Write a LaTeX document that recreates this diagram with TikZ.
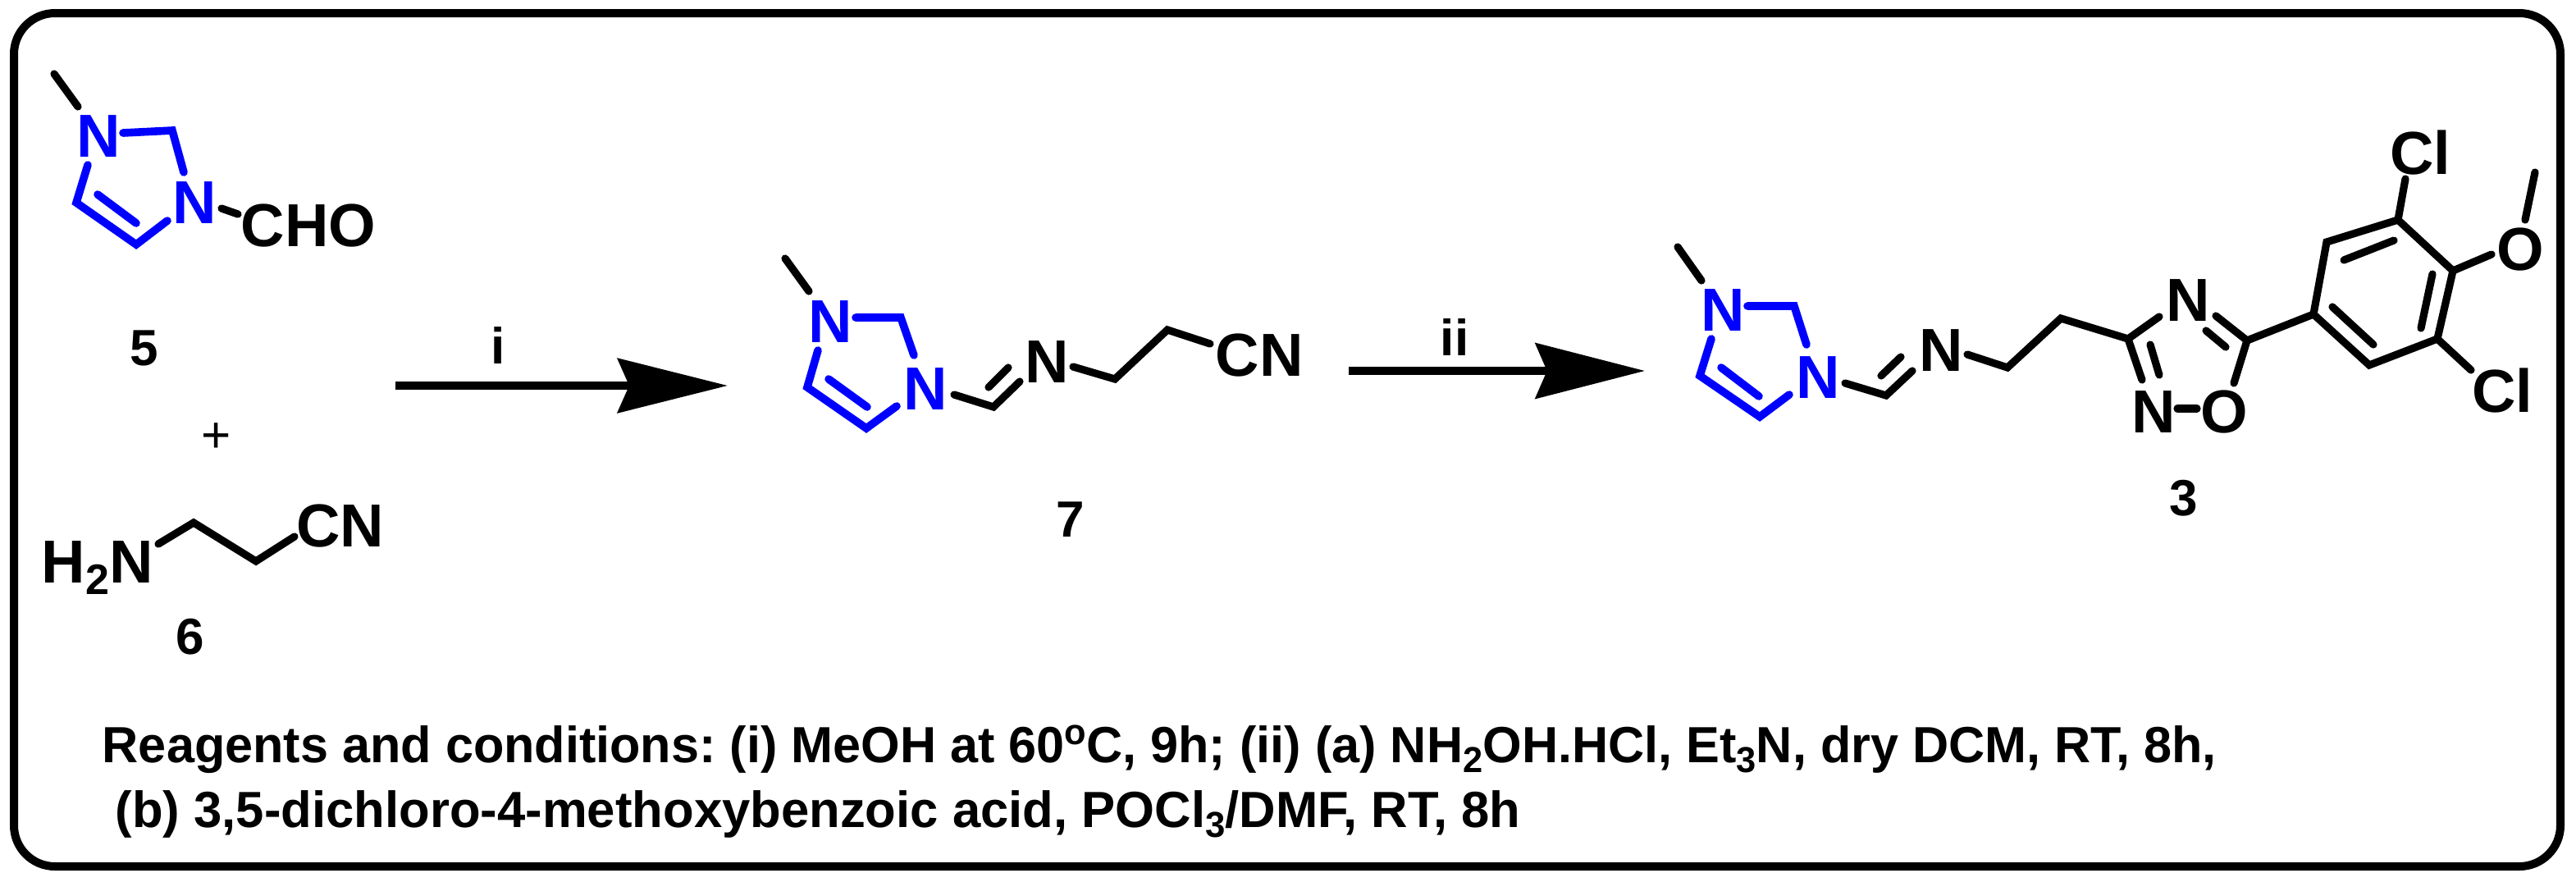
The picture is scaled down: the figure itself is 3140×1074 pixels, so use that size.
\documentclass[tikz,border=0pt]{standalone}
\usepackage{fontspec}
\usepackage{graphicx}
\setmainfont{Liberation Sans}
\usetikzlibrary{arrows.meta}
\newcommand{\chemlow}[1]{\raisebox{-3.7pt}{\fontsize{13}{13}\selectfont #1}}
\newcommand{\textlow}[1]{\raisebox{-3pt}{\fontsize{11}{11}\selectfont #1}}
\definecolor{ringblue}{RGB}{0,0,255}
\tikzset{
  atom/.style={anchor=base,inner sep=0pt,font=\fontsize{18.5}{18.5}\selectfont\bfseries},
  numlabel/.style={anchor=base,inner sep=0pt,font=\fontsize{15.5}{15.5}\selectfont\bfseries},
  atomblue/.style={atom,text=ringblue},
  bond/.style={line width=2.3pt,line cap=round,line join=miter,black},
  ringbond/.style={bond,draw=ringblue,line width=2.4pt},
  reactarrow/.style={line width=2.4pt,-{Stealth[length=33.5pt,width=16.5pt,inset=3.5pt]}},
  reactarrowb/.style={line width=2.5pt,-{Stealth[length=33.3pt,width=16.8pt,inset=3.5pt]}},
  conditions/.style={anchor=base west,inner sep=0pt,font=\fontsize{15.5}{15.5}\selectfont\bfseries\frenchspacing},
  frame/.style={line width=2.5pt,rounded corners=12.5pt}
}
\begin{document}
\begin{tikzpicture}[x=0.25pt,y=-0.25pt]
\useasboundingbox (0,0) rectangle (3140,1074);
\draw[frame] (17,16) rectangle (3121,1056);

% ---- compound 5
\node[atomblue] (aN1) at (120,191) {N};
\node[atomblue] (aN3) at (237,272) {N};
\node[atom] (aCHO) at (376,300) {CHO};
\node[numlabel] (n5) at (176,445) {5};
\coordinate (aMe) at (66,90); \coordinate (aMeN) at (95,130);
\coordinate (aB1) at (150,162); \coordinate (aC2) at (210,159); \coordinate (aB2) at (224,210);
\coordinate (aB3) at (204,269); \coordinate (aC4) at (166,298); \coordinate (aC5) at (93,247); \coordinate (aB4) at (107,201);
\coordinate (aI1) at (119,237); \coordinate (aI2) at (166,272);
\coordinate (aS1) at (270,254); \coordinate (aS2) at (290,261);
\draw[bond] (aMe) -- (aMeN);
\draw[ringbond] (aB1) -- (aC2) -- (aB2);
\draw[ringbond] (aB3) -- (aC4) -- (aC5) -- (aB4);
\draw[ringbond] (aI1) -- (aI2);
\draw[bond] (aS1) -- (aS2);
\node[numlabel] (plus) at (264,551) {\fontseries{m}\selectfont +};

% ---- compound 6
\node[atom,anchor=base west] (bH2N) at (50,710) {H\chemlow{2}N};
\node[atom] (bCN) at (415,666) {CN};
\node[numlabel] (n6) at (232,797) {6};
\coordinate (bA) at (193,663); \coordinate (bB) at (236,637); \coordinate (bC) at (312,684); \coordinate (bD) at (359,654);
\draw[bond] (bA) -- (bB) -- (bC) -- (bD);

% ---- arrow i
\coordinate (r1s) at (482,470); \coordinate (r1e) at (887,470);
\draw[reactarrow] (r1s) -- (r1e);
\node[numlabel] (ri) at (607,443) {i};

% ---- compound 7
\node[atomblue] (cN1) at (1012,417) {N};
\node[atomblue] (cN3) at (1128,499) {N};
\node[atom] (cN) at (1276,466) {N};
\node[atom] (cCN) at (1535,458) {CN};
\node[numlabel] (n7) at (1305,654) {7};
\coordinate (cMe) at (957,315); \coordinate (cMeN) at (986,355);
\coordinate (cB1) at (1043,387); \coordinate (cC2) at (1098,387); \coordinate (cB2) at (1114,433);
\coordinate (cB3) at (1093,495); \coordinate (cC4) at (1056,522); \coordinate (cC5) at (984,472); \coordinate (cB4) at (997,427);
\coordinate (cI1) at (1010,462); \coordinate (cI2) at (1057,496);
\coordinate (cS1) at (1163,481); \coordinate (cS2) at (1211,496); \coordinate (cS3) at (1243,465);
\coordinate (cD1) at (1205,472); \coordinate (cD2) at (1229,448);
\coordinate (cT1) at (1308,447); \coordinate (cT2) at (1359,462); \coordinate (cT3) at (1423,402); \coordinate (cT4) at (1475,419);
\draw[bond] (cMe) -- (cMeN);
\draw[ringbond] (cB1) -- (cC2) -- (cB2);
\draw[ringbond] (cB3) -- (cC4) -- (cC5) -- (cB4);
\draw[ringbond] (cI1) -- (cI2);
\draw[bond] (cS1) -- (cS2) -- (cS3);
\draw[bond] (cD1) -- (cD2);
\draw[bond] (cT1) -- (cT2) -- (cT3) -- (cT4);

% ---- arrow ii
\coordinate (r2s) at (1644,452); \coordinate (r2e) at (2005,452);
\draw[reactarrowb] (r2s) -- (r2e);
\node[numlabel] (rii) at (1773,433) {ii};

% ---- compound 3
\node[atomblue] (dN1) at (2100,403) {N};
\node[atomblue] (dN3) at (2216,485) {N};
\node[atom] (dN) at (2366,452) {N};
\node[atom] (dNu) at (2667,391) {N};
\node[atom] (dNl) at (2625,527) {N};
\node[atom] (dO) at (2711,527) {O};
\node[atom] (dCl1) at (2950,212) {Cl};
\node[atom] (dCl2) at (3050,502) {Cl};
\node[atom] (dOMe) at (3072,329) {O};
\node[numlabel] (n3) at (2662,628) {3};
\coordinate (dMe) at (2045,301); \coordinate (dMeN) at (2074,342);
\coordinate (dB1) at (2130,373); \coordinate (dC2) at (2187,373); \coordinate (dB2) at (2202,420);
\coordinate (dB3) at (2181,481); \coordinate (dC4) at (2145,508); \coordinate (dC5) at (2072,458); \coordinate (dB4) at (2086,413);
\coordinate (dI1) at (2098,448); \coordinate (dI2) at (2144,483);
\coordinate (dS1) at (2249,467); \coordinate (dS2) at (2299,482); \coordinate (dS3) at (2331,452);
\coordinate (dD1) at (2293,458); \coordinate (dD2) at (2317,435);
\coordinate (dT1) at (2398,432); \coordinate (dT2) at (2447,448); \coordinate (dT3) at (2512,388); \coordinate (dT4) at (2594,413);
\coordinate (dX1) at (2632,386); \coordinate (dX2) at (2611,463);
\coordinate (dY1) at (2621,420); \coordinate (dY2) at (2632,457);
\coordinate (dNO1) at (2654,498); \coordinate (dNO2) at (2678,498);
\coordinate (dC5x) at (2739,415); \coordinate (dOb) at (2723,467); \coordinate (dNb) at (2701,385);
\coordinate (dZ1) at (2689,403); \coordinate (dZ2) at (2713,423);
\coordinate (p1) at (2820,383); \coordinate (p2) at (2836,295); \coordinate (p3) at (2923,268);
\coordinate (p4) at (2990,330); \coordinate (p5) at (2971,413); \coordinate (p6) at (2888,445);
\coordinate (q1) at (2857,317); \coordinate (q2) at (2918,293);
\coordinate (q3) at (2965,334); \coordinate (q4) at (2951,400);
\coordinate (q5) at (2893,420); \coordinate (q6) at (2843,374);
\coordinate (cl1) at (2932,218); \coordinate (ob) at (3037,310);
\coordinate (me1) at (3078,268); \coordinate (me2) at (3090,210);
\coordinate (cl2) at (3012,451);
\draw[bond] (dMe) -- (dMeN);
\draw[ringbond] (dB1) -- (dC2) -- (dB2);
\draw[ringbond] (dB3) -- (dC4) -- (dC5) -- (dB4);
\draw[ringbond] (dI1) -- (dI2);
\draw[bond] (dS1) -- (dS2) -- (dS3);
\draw[bond] (dD1) -- (dD2);
\draw[bond] (dT1) -- (dT2) -- (dT3) -- (dT4) -- (dX1);
\draw[bond] (dT4) -- (dX2);
\draw[bond] (dY1) -- (dY2);
\draw[bond] (dNO1) -- (dNO2);
\draw[bond] (dNb) -- (dC5x) -- (dOb);
\draw[bond] (dZ1) -- (dZ2);
\draw[bond] (dC5x) -- (p1) -- (p2) -- (p3) -- (p4) -- (p5) -- (p6) -- (p1);
\draw[bond] (q1) -- (q2);
\draw[bond] (q3) -- (q4);
\draw[bond] (q5) -- (q6);
\draw[bond] (p3) -- (cl1);
\draw[bond] (p4) -- (ob);
\draw[bond] (me1) -- (me2);
\draw[bond] (p5) -- (cl2);

% ---- conditions
\node[conditions] (cond1) at (124,929) {\scalebox{0.987}[1]{Reagents and conditions: (i) MeOH at 60\raisebox{5.5pt}{\fontsize{11}{11}\selectfont o}C, 9h; (ii) (a) NH\textlow{2}OH.HCl, Et\textlow{3}N, dry DCM, RT, 8h,}};
\node[conditions] (cond2) at (140,1008) {\scalebox{0.994}[1]{(b) 3,5-dichloro-4-methoxybenzoic acid, POCl\textlow{3}/DMF, RT, 8h}};
\end{tikzpicture}
\end{document}
